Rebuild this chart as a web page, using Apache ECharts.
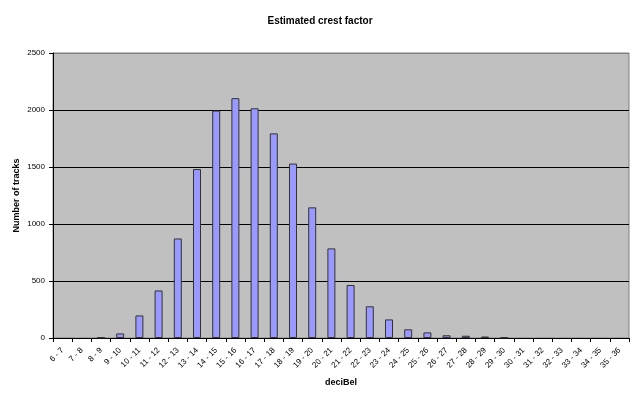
<!DOCTYPE html>
<html>
<head>
<meta charset="utf-8">
<script src="https://cdn.jsdelivr.net/npm/echarts@6/dist/echarts.min.js"></script>
<style>
  html, body { margin: 0; padding: 0; background: #fff; }
  #chart { width: 640px; height: 399px; }
</style>
</head>
<body>
<div id="chart"></div>
<script>
// Bins in dB
const categories = [
    '6 - 7', '7 - 8', '8 - 9', '9 - 10', '10 - 11', '11 - 12', '12 - 13', '13 - 14',
    '14 - 15', '15 - 16', '16 - 17', '17 - 18', '18 - 19', '19 - 20', '20 - 21',
    '21 - 22', '22 - 23', '23 - 24', '24 - 25', '25 - 26', '26 - 27', '27 - 28',
    '28 - 29', '29 - 30', '30 - 31', '31 - 32', '32 - 33', '33 - 34', '34 - 35', '35 - 36'
];

// Number of tracks per bin
const tracks = [
    0, 0, 5, 40, 198, 417, 873, 1482,
    1995, 2104, 2015, 1795, 1530, 1146, 786,
    465, 278, 163, 76, 49, 24, 20,
    13, 5, 0, 0, 0, 0, 0, 0
];

const yTicks = { min: 0, max: 2500, interval: 500 };

const chart = echarts.init(document.getElementById('chart'));

const font = 'Arial, "Liberation Sans", sans-serif';

chart.setOption({
    animation: false,
    title: {
        text: 'Estimated crest factor',
        left: 'center',
        top: 11,
        textStyle: { fontFamily: font, fontSize: 10, fontWeight: 'bold', color: '#000' }
    },
    grid: {
        left: 53,
        right: 11,
        top: 53,
        bottom: 61,
        outerBoundsMode: 'none',
        containLabel: false,
        show: true,
        backgroundColor: '#c0c0c0',
        borderColor: '#808080',
        borderWidth: 1
    },
    xAxis: {
        type: 'category',
        data: categories,
        name: 'deciBel',
        nameLocation: 'middle',
        nameGap: 40,
        nameMoveOverlap: false,
        nameTextStyle: { fontFamily: font, fontSize: 9, fontWeight: 'bold', color: '#000' },
        axisLine: { lineStyle: { color: '#000', width: 1 } },
        axisTick: { show: true, length: 4, lineStyle: { color: '#000' } },
        axisLabel: {
            interval: 0,
            rotate: 45,
            margin: 11,
            fontFamily: font,
            fontSize: 8,
            color: '#000'
        },
        splitLine: { show: false }
    },
    yAxis: {
        type: 'value',
        min: yTicks.min,
        max: yTicks.max,
        interval: yTicks.interval,
        name: 'Number of tracks',
        nameLocation: 'middle',
        nameGap: 32,
        nameMoveOverlap: false,
        nameTextStyle: { fontFamily: font, fontSize: 9, fontWeight: 'bold', color: '#000' },
        axisLine: { show: true, lineStyle: { color: '#000', width: 1 } },
        axisTick: { show: true, length: 4, lineStyle: { color: '#000' } },
        axisLabel: {
            margin: 8,
            fontFamily: font,
            fontSize: 8,
            color: '#000',
            formatter: v => String(v)
        },
        splitLine: {
            show: true,
            lineStyle: { color: ['#000', '#000', '#000', '#000', '#000', '#808080'], width: 1 }
        }
    },
    series: [{
        type: 'bar',
        data: tracks.map(v => (v === 0 ? '-' : v)),
        barWidth: 8,
        itemStyle: {
            color: '#9999ff',
            borderColor: '#333333',
            borderWidth: 1
        }
    }]
});
</script>
</body>
</html>
